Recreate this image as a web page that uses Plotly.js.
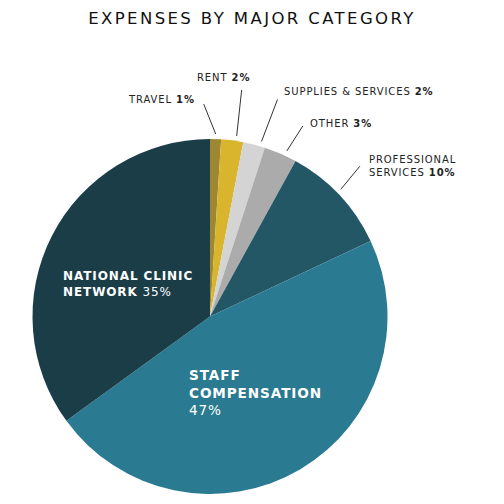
<!DOCTYPE html>
<html>
<head>
<meta charset="utf-8">
<script src="https://cdn.plot.ly/plotly-3.0.1.min.js"></script>
<style>
  html, body { margin: 0; padding: 0; background: #fff; }
  #chart { width: 504px; height: 504px; }
  .gtitle { letter-spacing: 2.4px; }
  .annotation-text { letter-spacing: 0.9px; }
</style>
</head>
<body>
<div id="chart"></div>
<script>
// ---- data ----
const categories = ['Travel', 'Rent', 'Supplies & Services', 'Other', 'Professional Services', 'Staff Compensation', 'National Clinic Network'];
const values = [1, 2, 2, 3, 10, 47, 35];
const colors = ['#9E8733', '#D8B52C', '#D4D4D4', '#ABABAB', '#235766', '#2A7A91', '#1B3D48'];
const labelNames = ['TRAVEL', 'RENT', 'SUPPLIES &amp; SERVICES', 'OTHER', 'PROFESSIONAL<br>SERVICES', 'STAFF<br>COMPENSATION', 'NATIONAL CLINIC<br>NETWORK'];
const labelSep = [' ', ' ', ' ', ' ', ' ', '<br>', ' '];
const insideLabel = [false, false, false, false, false, true, true];

// ---- layout helpers (pixels) ----
const W = 504, H = 504;
const cx = 210, cy = 316.5, R = 177.5;
const px = x => x / W;
const py = y => 1 - y / H;

// label placement (pixels) and leader-line offsets (angle nudge in degrees)
const labelPos = [
  {x: 197, y: 100, xa: 'right', size: 10, off: [-12, -30], nudge: 0},
  {x: 223, y: 77, xa: 'center', size: 10, off: [5, -46], nudge: 1.2},
  {x: 282, y: 91, xa: 'left', size: 10, off: [16, -42], nudge: 2},
  {x: 308, y: 123, xa: 'left', size: 10, off: [16, -25], nudge: 1.5},
  {x: 367, y: 166, xa: 'left', size: 10, off: [19, -23], nudge: -1},
  {x: 187, y: 392, xa: 'left', size: 13.6, off: null},
  {x: 61, y: 284, xa: 'left', size: 12, off: null}
];

const total = values.reduce((a, b) => a + b, 0);
const annotations = [];
const shapes = [];
let cum = 0;
values.forEach((v, i) => {
  const lp = labelPos[i];
  const mid = ((cum + v / 2) / total * 360 + (lp.nudge || 0)) * Math.PI / 180;
  cum += v;
  let text;
  if (insideLabel[i]) {
    text = '<b>' + labelNames[i] + '</b>' + labelSep[i] + v + '%';
  } else {
    text = labelNames[i] + labelSep[i] + '<b>' + v + '%</b>';
  }
  annotations.push({
    xref: 'paper', yref: 'paper', x: px(lp.x), y: py(lp.y),
    xanchor: lp.xa, yanchor: 'middle', align: 'left', showarrow: false,
    text: text,
    font: {family: 'DejaVu Sans, sans-serif', size: lp.size, color: insideLabel[i] ? '#ffffff' : '#222222'}
  });
  if (lp.off) {
    const ix = cx + (R + 5) * Math.sin(mid);
    const iy = cy - (R + 5) * Math.cos(mid);
    shapes.push({
      type: 'line', xref: 'paper', yref: 'paper',
      x0: px(ix), y0: py(iy), x1: px(ix + lp.off[0]), y1: py(iy + lp.off[1]),
      line: {color: '#333333', width: 1}
    });
  }
});

const trace = {
  type: 'pie',
  labels: categories,
  values: values,
  sort: false,
  direction: 'clockwise',
  rotation: 0,
  textinfo: 'none',
  hoverinfo: 'label+percent',
  marker: {colors: colors, line: {width: 0}},
  domain: {x: [px(cx - R), px(cx + R)], y: [py(cy + R), py(cy - R)]},
  showlegend: false
};

const layout = {
  width: W, height: H,
  margin: {l: 0, r: 0, t: 0, b: 0},
  paper_bgcolor: '#ffffff',
  title: {
    text: 'EXPENSES BY MAJOR CATEGORY',
    x: 0.5, xanchor: 'center', y: py(18), yanchor: 'middle', xref: 'paper', yref: 'paper',
    font: {family: 'DejaVu Sans, sans-serif', size: 16.5, color: '#111111'}
  },
  annotations: annotations,
  shapes: shapes,
  showlegend: false
};

Plotly.newPlot('chart', [trace], layout, {displayModeBar: false, staticPlot: true});
</script>
</body>
</html>
